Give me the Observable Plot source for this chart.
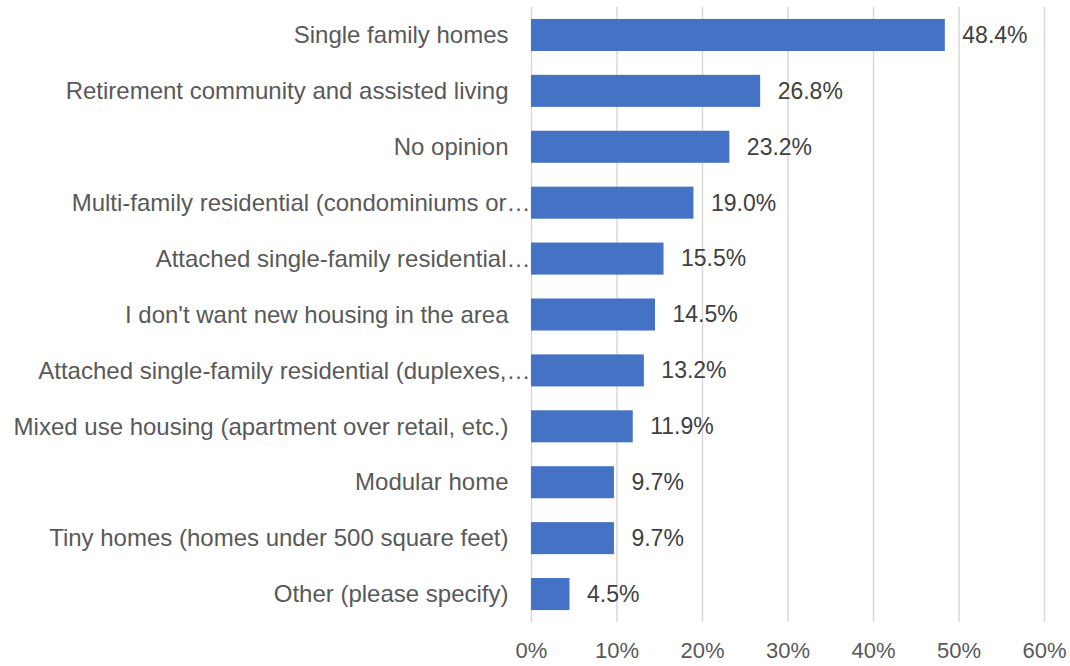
<!DOCTYPE html>
<html>
<head>
<meta charset="utf-8">
<script src="https://cdn.jsdelivr.net/npm/d3@7"></script>
<script src="https://cdn.jsdelivr.net/npm/@observablehq/plot@0.6"></script>
<style>
  html, body { margin: 0; padding: 0; background: #fff; }
  #chart svg { display: block; }
</style>
</head>
<body>
<div id="chart"></div>
<script>
const categories = [
  "Single family homes",
  "Retirement community and assisted living",
  "No opinion",
  "Multi-family residential (condominiums or…",
  "Attached single-family residential…",
  "I don't want new housing in the area",
  "Attached single-family residential (duplexes,…",
  "Mixed use housing (apartment over retail, etc.)",
  "Modular home",
  "Tiny homes (homes under 500 square feet)",
  "Other (please specify)"
];
const values = [48.4, 26.8, 23.2, 19.0, 15.5, 14.5, 13.2, 11.9, 9.7, 9.7, 4.5];
const xTicks = [0, 10, 20, 30, 40, 50, 60];

const data = categories.map((c, i) => ({ category: c, value: values[i] }));
const font = "'Liberation Sans', Arial, Helvetica, sans-serif";

const chart = Plot.plot({
  width: 1070,
  height: 666,
  marginLeft: 531,
  marginRight: 26,
  marginTop: 7,
  marginBottom: 44,
  style: { fontFamily: font, fontSize: "22px", color: "#595959", background: "#fff" },
  x: { domain: [0, 60], ticks: xTicks, tickFormat: d => d + "%" },
  y: { domain: categories, paddingInner: 0.427, paddingOuter: 0.2135, round: false },
  marks: [
    Plot.ruleX(xTicks, { stroke: "#d9d9d9", strokeWidth: 1.5 }),
    Plot.barX(data, { x: "value", y: "category", fill: "#4472c4" }),
    Plot.text(data, {
      x: "value", y: "category", text: d => d.value.toFixed(1) + "%",
      textAnchor: "start", dx: 17, fill: "#404040", fontSize: 23
    }),
    Plot.text(data.filter(d => !d.category.endsWith("…")), {
      x: 0, y: "category", text: "category", textAnchor: "end", dx: -23, fill: "#595959", fontSize: 24
    }),
    Plot.text(data.filter(d => d.category.endsWith("…")), {
      x: 0, y: "category", text: "category", textAnchor: "end", dx: -1, fill: "#595959", fontSize: 24
    }),
    Plot.axisX({ ticks: xTicks, tickFormat: d => d + "%", tickSize: 0, tickPadding: 20, fontSize: 22, fill: "#595959", label: null }),
    Plot.axisY({ ticks: [], label: null })
  ]
});
document.getElementById("chart").appendChild(chart);
</script>
</body>
</html>
